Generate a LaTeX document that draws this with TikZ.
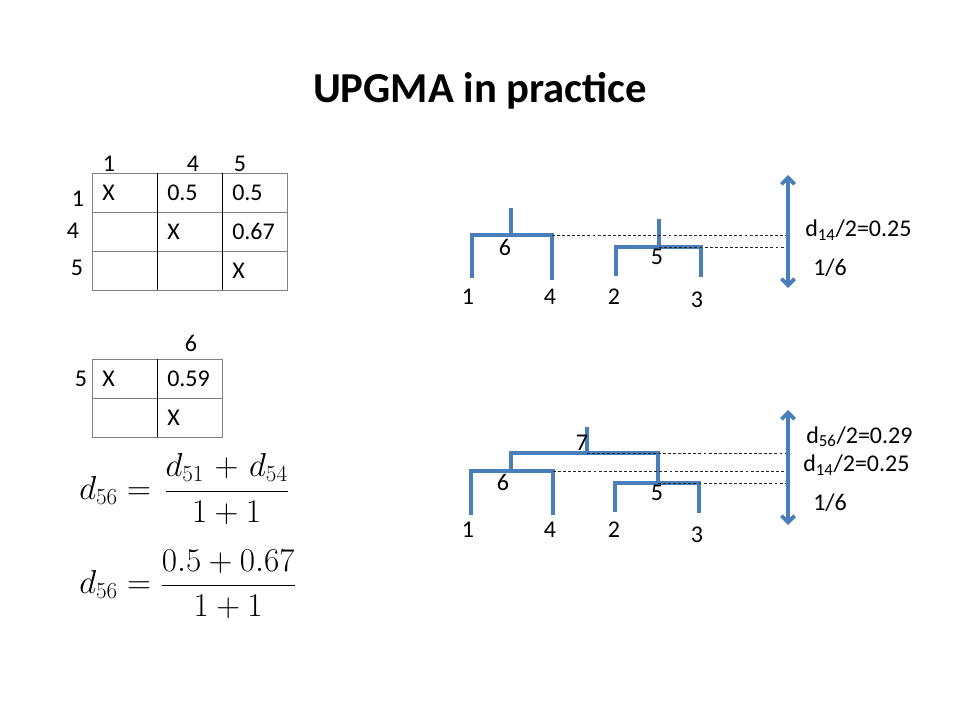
\documentclass[tikz,border=0pt]{standalone}
\usepackage[no-math]{fontspec}
\setmainfont{Carlito}
\usetikzlibrary{arrows.meta,positioning}
\definecolor{treeblue}{HTML}{4A7EBB}
\definecolor{gridgray}{HTML}{808080}
\tikzset{
	branch/.style={draw=treeblue,line width=2.8pt},
	level/.style={draw=black!85,line width=0.6pt,dash pattern=on 2.2pt off 1.6pt},
	lbl/.style={font=\fontsize{18}{20}\selectfont,inner sep=0pt},
	cell/.style={lbl,anchor=west},
	span/.style={draw=treeblue,line width=2.8pt,{Straight Barb[length=5pt,width=10pt]}-{Straight Barb[length=5pt,width=10pt]}},
}
\begin{document}
\begin{tikzpicture}[x=0.75pt,y=-0.75pt]
		\useasboundingbox (0,0) rectangle (960,720);
		\node[font=\fontsize{32}{38}\selectfont\bfseries] (title) at (480,91) {UPGMA in practice};
		% distance table 1,4,5
		\draw[gridgray] (92,173) rectangle (287,290) (92,212) -- (287,212) (92,251) -- (287,251);
		\draw (157,173) -- (157,290) (222,173) -- (222,290);
		\foreach \n/\x in {1/109,4/193,5/240} \node[lbl] (c\n) at (\x,164) {\n};
		\foreach \n/\x/\y in {1/78/199,4/73/231,5/77/268} \node[lbl] (r\n) at (\x,\y) {\n};
		\foreach \r/\c/\t in {1/1/X,1/2/0.5,1/3/0.5,2/2/X,2/3/0.67,3/3/X}
			\node[cell] (m\r\c) at ({92+(\c-1)*65+10},{173+(\r-0.5)*39}) {\t};
		% distance table 5,6
		\draw[gridgray] (92,359) rectangle (222,437) (92,398) -- (222,398);
		\draw (157,359) -- (157,437);
		\node[lbl] (c6) at (191,343) {6};
		\node[lbl] (r5b) at (81,379) {5};
		\foreach \r/\c/\t in {1/1/X,1/2/0.59,2/2/X}
			\node[cell] (k\r\c) at ({92+(\c-1)*65+10},{359+(\r-0.5)*39}) {\t};
		% formulas
		\node[anchor=west,inner sep=0pt] (f1) at (79,489) {\fontsize{24}{29}\selectfont$\displaystyle d_{56}=\mkern2mu\frac{d_{51}\mkern1.7mu+\mkern1.7mu d_{54}}{1+1}$};
		\node[anchor=west,inner sep=0pt] (f2) at (79,584) {\fontsize{23.5}{28}\selectfont$\displaystyle d_{56}=\frac{0.5+0.67}{1+1}$};
		% tree after joining 1,4 and 2,3
		\path (472,278) coordinate (t1) (472,235) coordinate (t6a) (552,235) coordinate (t6b) (552,280) coordinate (t4)
			(511,235) coordinate (t6) (511,208) coordinate (t6top)
			(616,276) coordinate (t2) (616,247) coordinate (t5a) (701,247) coordinate (t5b) (701,277) coordinate (t3)
			(659,247) coordinate (t5) (659,219) coordinate (t5top)
			(788,175) coordinate (ta) (788,288) coordinate (tb);
		\draw[branch] (t1) -- (t6a) -- (t6b) -- (t4) (t6) -- (t6top);
		\draw[branch] (t2) -- (t5a) -- (t5b) -- (t3) (t5) -- (t5top);
		\draw[level] (t6b) -- (t6b -| ta) (t5) -- (t5 -| ta);
		\draw[span] (ta) -- (tb);
		\foreach \n/\x/\y in {1/468/297,4/550/297,2/614/297,3/697/300} \node[lbl] (tl\n) at (\x,\y) {\n};
		\node[lbl] (tn6) at (505,247) {6};
		\node[lbl] (tn5) at (657,257) {5};
		\node[lbl,anchor=west] (th14) at (805,230) {d\textsubscript{14}/2=0.25};
		\node[lbl,anchor=west] (th16) at (813,268) {1/6};
		% tree after joining 5,6
		\path (471,515) coordinate (b1) (471,471) coordinate (b6a) (553,471) coordinate (b6b) (553,515) coordinate (b4)
			(511,471) coordinate (b6) (511,453) coordinate (b7a) (658,453) coordinate (b7b) (658,483) coordinate (b5)
			(615,512) coordinate (b2) (615,483) coordinate (b5a) (699,483) coordinate (b5b) (699,513) coordinate (b3)
			(587,453) coordinate (b7) (587,427) coordinate (b7top)
			(788,410) coordinate (ba) (788,525) coordinate (bb);
		\draw[branch] (b1) -- (b6a) -- (b6b) -- (b4) (b6) -- (b7a) -- (b7b) -- (b5);
		\draw[branch] (b2) -- (b5a) -- (b5b) -- (b3) (b7) -- (b7top);
		\draw[level] (b7) -- (b7 -| ba) (b6b) -- (b6b -| ba) (b5) -- (b5 -| ba);
		\draw[span] (ba) -- (bb);
		\foreach \n/\x/\y in {1/468/530,4/550/530,2/614/530,3/697/535} \node[lbl] (bl\n) at (\x,\y) {\n};
		\node[lbl] (bn7) at (582,443) {7};
		\node[lbl] (bn6) at (503,482) {6};
		\node[lbl] (bn5) at (657,493) {5};
		\node[lbl,anchor=west] (bh56) at (806,437) {d\textsubscript{56}/2=0.29};
		\node[lbl,anchor=west] (bh14) at (803,465) {d\textsubscript{14}/2=0.25};
		\node[lbl,anchor=west] (bh16) at (813,503) {1/6};
	\end{tikzpicture}
\end{document}
